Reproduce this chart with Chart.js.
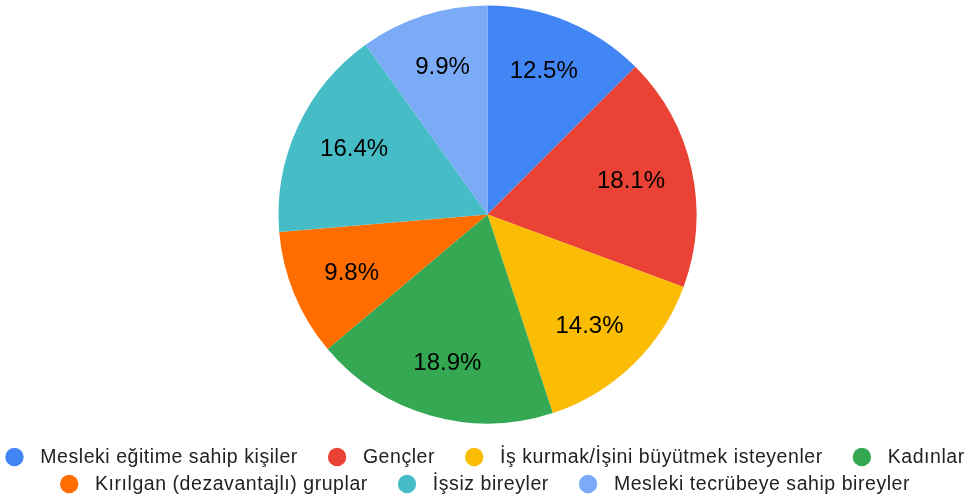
<!DOCTYPE html>
<html>
<head>
<meta charset="utf-8">
<script src="https://cdn.jsdelivr.net/npm/chart.js@4/dist/chart.umd.min.js"></script>
<style>
  html, body { margin: 0; padding: 0; background: #fff; }
  #wrap { width: 970px; height: 499px; }
</style>
</head>
<body>
<div id="wrap"><canvas id="pieChart"></canvas></div>
<script>
// Veriler
const categories = [
    'Mesleki eğitime sahip kişiler',
    'Gençler',
    'İş kurmak/İşini büyütmek isteyenler',
    'Kadınlar',
    'Kırılgan (dezavantajlı) gruplar',
    'İşsiz bireyler',
    'Mesleki tecrübeye sahip bireyler'
];
const shares = [12.5, 18.1, 14.3, 18.9, 9.8, 16.4, 9.9];
const sliceColors = ['#4285F4', '#EA4335', '#FBBC04', '#34A853', '#FF6D01', '#46BDC6', '#7BAAF7'];

const FONT = '"Liberation Sans", Arial, sans-serif';

// Dilim üzerine yüzde yazan eklenti
const percentLabels = {
    id: 'percentLabels',
    afterDatasetsDraw(chart) {
        const ctx = chart.ctx;
        const meta = chart.getDatasetMeta(0);
        ctx.save();
        ctx.font = '24px ' + FONT;
        ctx.fillStyle = '#000';
        ctx.textAlign = 'center';
        ctx.textBaseline = 'middle';
        meta.data.forEach((arc, i) => {
            const mid = (arc.startAngle + arc.endAngle) / 2;
            const x = arc.x + Math.cos(mid) * arc.outerRadius * 0.703;
            const y = arc.y + Math.sin(mid) * arc.outerRadius * 0.742;
            ctx.fillText(shares[i].toFixed(1) + '%', x, y);
        });
        ctx.restore();
    }
};

// Alttaki açıklama (legend) - iki satır, ortalanmış
const bottomLegend = {
    id: 'bottomLegend',
    afterDraw(chart) {
        const ctx = chart.ctx;
        const dotR = 9.2, dotGap = 16.6, itemGap = 30;
        const rowY = [457, 484];
        ctx.save();
        ctx.font = '19.5px ' + FONT;
        ctx.letterSpacing = '0.55px';
        ctx.textBaseline = 'middle';
        ctx.textAlign = 'left';

        // satırlara böl
        const rows = [[]];
        let rowW = 0;
        categories.forEach((label, i) => {
            const w = dotR * 2 + dotGap + ctx.measureText(label).width;
            const add = rows[rows.length - 1].length ? itemGap + w : w;
            if (rows[rows.length - 1].length && rowW + add > chart.width) {
                rows.push([]);
                rowW = w;
            } else {
                rowW += add;
            }
            rows[rows.length - 1].push({ label, i, w });
        });

        rows.forEach((row, r) => {
            const total = row.reduce((s, it) => s + it.w, 0) + itemGap * (row.length - 1);
            let x = (chart.width - total) / 2;
            const y = rowY[r] || rowY[0] + r * 27;
            row.forEach(it => {
                ctx.fillStyle = sliceColors[it.i];
                ctx.beginPath();
                ctx.arc(x + dotR, y, dotR, 0, Math.PI * 2);
                ctx.fill();
                ctx.fillStyle = '#222';
                ctx.fillText(it.label, x + dotR * 2 + dotGap, y + 1);
                x += it.w + itemGap;
            });
        });
        ctx.restore();
    }
};

const ctx = document.getElementById('pieChart').getContext('2d');
new Chart(ctx, {
    type: 'pie',
    data: {
        labels: categories,
        datasets: [{
            data: shares,
            backgroundColor: sliceColors,
            borderWidth: 0,
            hoverOffset: 0
        }]
    },
    options: {
        responsive: true,
        maintainAspectRatio: false,
        animation: false,
        layout: { padding: { top: 5.5, bottom: 75.5, left: 5, right: 0 } },
        plugins: {
            legend: { display: false },
            tooltip: { enabled: false }
        }
    },
    plugins: [percentLabels, bottomLegend]
});
</script>
</body>
</html>
